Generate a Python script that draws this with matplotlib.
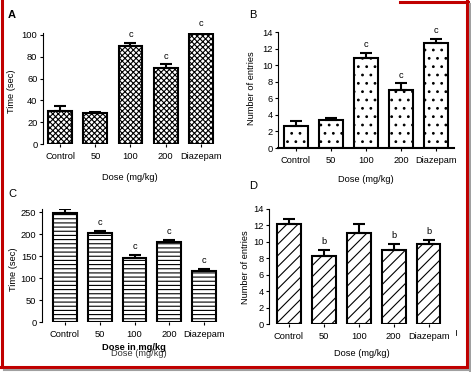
import matplotlib
matplotlib.use("Agg")
import matplotlib.pyplot as plt
from matplotlib.lines import Line2D

W, H = 471, 372

groups = ["Control", "50", "100", "200", "Diazepam"]

# panel A - time (sec)
a_vals = [30, 28, 90, 70, 101]
a_errs = [5, 1, 2.5, 3, 1.5]
a_marks = ["", "", "c", "c", "c"]

# panel B - number of entries
b_vals = [2.7, 3.4, 10.9, 7.0, 12.7]
b_errs = [0.5, 0.2, 0.6, 0.8, 0.5]
b_marks = ["", "", "c", "c", "c"]

# panel C - time (sec)
c_vals = [248, 202, 145, 182, 115]
c_errs = [9, 6, 7, 5, 5]
c_marks = ["", "c", "c", "c", "c"]

# panel D - number of entries
d_vals = [12.2, 8.3, 11.1, 9.0, 9.8]
d_errs = [0.6, 0.7, 1.1, 0.8, 0.4]
d_marks = ["", "b", "", "b", "b"]

plt.rcParams["font.family"] = ["Liberation Sans", "DejaVu Sans"]
plt.rcParams["hatch.linewidth"] = 0.8
FS = 6.7


def fx(x):
    return x / W


def fy(y):
    return 1 - y / H


def make_axes(fig, left, right, top, bottom):
    return fig.add_axes([fx(left), fy(bottom), (right - left) / W, (bottom - top) / H])


def draw_panel(ax, vals, errs, marks, hatch, ylim, yticks, xlim, bottom_spine=False):
    x = list(range(len(groups)))
    ax.bar(x, vals, width=0.68, color="white", edgecolor="black",
           linewidth=1.5, hatch=hatch, zorder=2)
    ax.errorbar(x, vals, yerr=[[0] * len(errs), errs], fmt="none", ecolor="black",
                elinewidth=1.5, capsize=4.3, capthick=1.5, zorder=3)
    for xi, v, e, m in zip(x, vals, errs, marks):
        if m:
            ax.annotate(m, (xi, v + e), xytext=(0, 6), textcoords="offset points",
                        ha="center", va="center", fontsize=FS, annotation_clip=False)
    ax.set_xlim(*xlim)
    ax.set_ylim(*ylim)
    ax.set_yticks(yticks)
    ax.set_xticks(x)
    ax.set_xticklabels(groups)
    ax.tick_params(axis="both", labelsize=FS, length=2.5, width=0.8, pad=1.5)
    ax.tick_params(axis="x", pad=3.5)
    for s in ["top", "right"]:
        ax.spines[s].set_visible(False)
    ax.spines["left"].set_linewidth(0.8)
    if bottom_spine:
        ax.spines["bottom"].set_linewidth(1.5)
    else:
        ax.spines["bottom"].set_visible(False)


fig = plt.figure(figsize=(W / 100, H / 100), dpi=100)

axA = make_axes(fig, 43, 218, 32.8, 144)
draw_panel(axA, a_vals, a_errs, a_marks, "xxxxxx", (0, 102), range(0, 101, 20), (-0.49, 4.49))

axB = make_axes(fig, 278, 454, 32, 148)
draw_panel(axB, b_vals, b_errs, b_marks, "..", (0, 14), range(0, 15, 2), (-0.51, 4.51),
           bottom_spine=True)

axC = make_axes(fig, 42, 227, 209, 322)
draw_panel(axC, c_vals, c_errs, c_marks, "----", (0, 257), range(0, 251, 50), (-0.66, 4.66))

axD = make_axes(fig, 269, 448.5, 209, 324)
draw_panel(axD, d_vals, d_errs, d_marks, "///", (0, 14), range(0, 15, 2), (-0.57, 4.57))

# panel letters
fig.text(fx(8), fy(15), "A", fontsize=8, fontweight="bold", va="center")
fig.text(fx(249), fy(15), "B", fontsize=8, va="center")
fig.text(fx(8), fy(194), "C", fontsize=8, va="center")
fig.text(fx(249), fy(186), "D", fontsize=8, va="center")

# y labels
fig.text(fx(12), fy(91), "Time (sec)", fontsize=FS, rotation=90, ha="center", va="center")
fig.text(fx(251), fy(88), "Number of entries", fontsize=FS, rotation=90, ha="center", va="center")
fig.text(fx(13), fy(269), "Time (sec)", fontsize=FS, rotation=90, ha="center", va="center")
fig.text(fx(245), fy(267), "Number of entries", fontsize=FS, rotation=90, ha="center", va="center")

# x labels (panel C has two labels printed on top of each other, as in the source)
fig.text(fx(130), fy(177), "Dose (mg/kg)", fontsize=FS, ha="center", va="center")
fig.text(fx(366), fy(180), "Dose (mg/kg)", fontsize=FS, ha="center", va="center")
fig.text(fx(139), fy(353), "Dose (mg/kg)", fontsize=FS, ha="center", va="center", color="#333333")
fig.text(fx(134), fy(348), "Dose in mg/kg", fontsize=FS, ha="center", va="center",
         fontweight="bold")
fig.text(fx(362), fy(354), "Dose (mg/kg)", fontsize=FS, ha="center", va="center")

# stray tick next to the D labels
fig.add_artist(Line2D([fx(456), fx(456)], [fy(330), fy(335)], color="black", lw=0.6))

# red frame with grey shadow
red = "#c00000"
grey = "#a0a0a0"
frame = [
    ([1.5, 1.5], [0, 367], red, 2.2),
    ([0, 468], [366.5, 366.5], red, 2.2),
    ([467, 467], [0, 368], red, 2.2),
    ([400, 468], [1.5, 1.5], red, 2.2),
    ([470, 470], [4, 372], grey, 1.5),
    ([4, 471], [370, 370], grey, 1.5),
]
for xs, ys, col, lw in frame:
    fig.add_artist(Line2D([fx(v) for v in xs], [fy(v) for v in ys], color=col, lw=lw))

fig.savefig("out.png", dpi=100)
